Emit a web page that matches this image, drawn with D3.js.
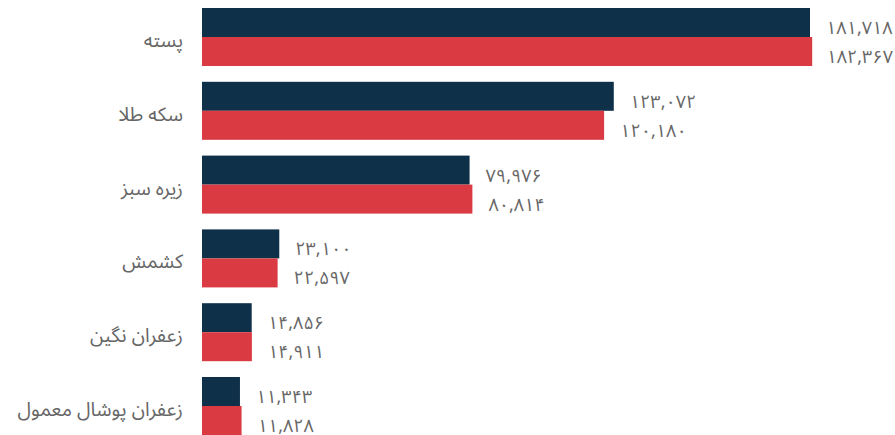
<!DOCTYPE html>
<html><head><meta charset="utf-8">
<script src="https://cdn.jsdelivr.net/npm/d3@7"></script>
<style>
html,body{margin:0;padding:0;background:#fff;}
text{font-family:"Noto Sans Arabic","Noto Sans",sans-serif;}
</style></head>
<body>
<svg id="chart" width="895" height="435"></svg>
<script>
const categories = ["پسته","سکه طلا","زیره سبز","کشمش","زعفران نگین","زعفران پوشال معمول"];
const seriesDark = [181718,123072,79976,23100,14856,11343];
const seriesRed  = [182367,120180,80814,22597,14911,11828];
const seriesNames = ["dark","red"];
const colors = ["#0f3049","#da3b42"];

const W = 895, H = 435;
const svg = d3.select("#chart");

const x = d3.scaleLinear().domain([0,200000]).range([202, 202 + 200000*608/181718]);
const y0 = d3.scaleBand().domain(categories).range([8, 435]).paddingInner(0.214).paddingOuter(0);
const y1 = d3.scaleBand().domain(seriesNames).range([0, y0.bandwidth()]);

const fa = s => s.replace(/[0-9]/g, d => "۰۱۲۳۴۵۶۷۸۹"[+d]);
const fmt = v => fa(d3.format(",")(v));

const rows = categories.map((c,i)=>({cat:c, vals:[seriesDark[i], seriesRed[i]]}));

const g = svg.selectAll("g.grp").data(rows).join("g")
  .attr("class","grp")
  .attr("transform", d=>`translate(0,${y0(d.cat)})`);

g.selectAll("rect").data(d=>d.vals.map((v,j)=>({v, s:seriesNames[j], c:colors[j]})))
  .join("rect")
  .attr("x", x(0))
  .attr("y", d=>y1(d.s))
  .attr("height", y1.bandwidth())
  .attr("width", d=>x(d.v)-x(0))
  .attr("fill", d=>d.c);

g.selectAll("text.val").data(d=>d.vals.map((v,j)=>({v, s:seriesNames[j]})))
  .join("text")
  .attr("class","val")
  .attr("direction","ltr")
  .attr("y", d=>y1(d.s) + y1.bandwidth()/2 + 11.5)
  .attr("font-size", 18)
  .attr("fill", "#666")
  .text(d=>fmt(d.v))
  .each(function(d){
    const w = this.getComputedTextLength();
    const xx = Math.min(x(d.v) + 16, W - 2 - w);
    d3.select(this).attr("x", xx);
  });

g.append("text")
  .attr("x", 183)
  .attr("y", y0.bandwidth()/2 + 10)
  .attr("text-anchor","end")
  .attr("font-size", 19.5)
  .attr("fill", "#666")
  .text(d=>d.cat);
</script>
</body></html>
